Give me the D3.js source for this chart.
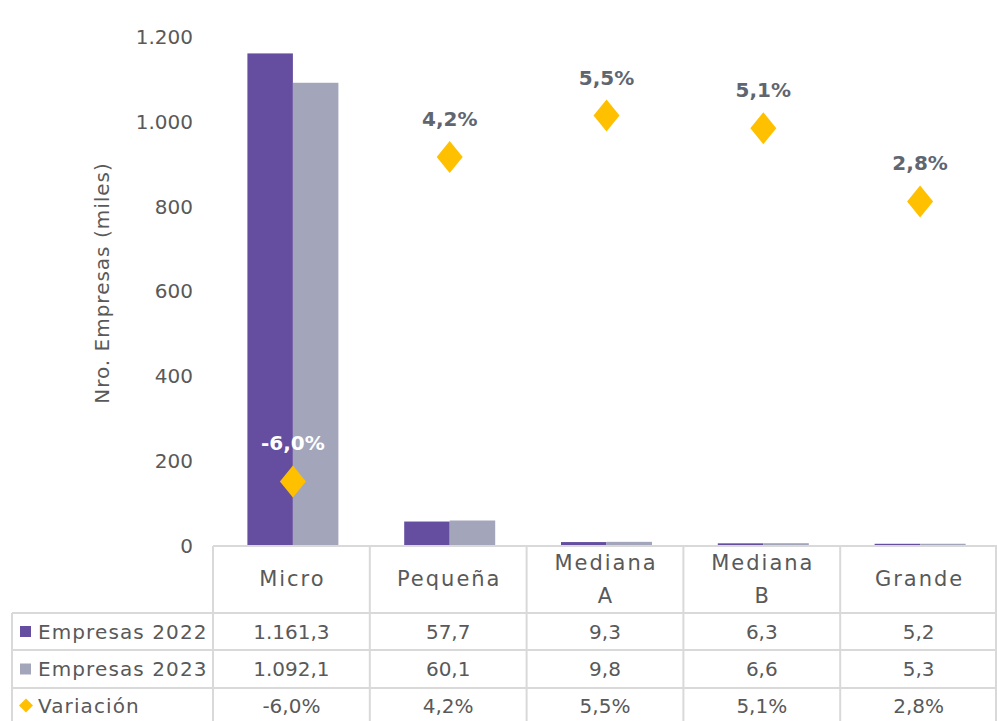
<!DOCTYPE html>
<html>
<head>
<meta charset="utf-8">
<script src="https://cdn.jsdelivr.net/npm/d3@7"></script>
<style>
  body { margin: 0; background: #fff; }
  text { font-family: "DejaVu Sans", sans-serif; }
</style>
</head>
<body>
<script>
var categories = [['Micro'], ['Pequeña'], ['Mediana', 'A'], ['Mediana', 'B'], ['Grande']],
  seriesNames = ['Empresas 2022', 'Empresas 2023'],
  empresas2022 = [1161.3, 57.7, 9.3, 6.3, 5.2],
  empresas2023 = [1092.1, 60.1, 9.8, 6.6, 5.3],
  variacion = [-0.060, 0.042, 0.055, 0.051, 0.028],
  yTicks = [0, 200, 400, 600, 800, 1000, 1200];

var
  width  = 997,
  height = 721,
  colors = ['#654ea0', '#a3a5bb'],
  diamondColor = '#ffc000',
  textColor = '#595959',
  gridColor = '#d9d9d9',
  locale = d3.formatLocale({decimal: ',', thousands: '.', grouping: [3], currency: ['', ''], minus: '-'}),
  fmtTick = locale.format(',.0f'),
  fmtVal  = locale.format(',.1f'),
  fmtPct  = locale.format('.1%');

var keys = categories.map(function (c) { return c.join(' '); });

var x0 = d3.scaleBand().domain(keys).range([213, 997]).padding(0),
  x1 = d3.scaleBand().domain(seriesNames)
         .range([(x0.bandwidth() - 91) / 2 + 1.5, (x0.bandwidth() + 91) / 2 + 1.5]),
  y = d3.scaleLinear().domain([0, 1200]).range([546, 37]),
  y2 = d3.scaleLinear().domain([-0.08, 0.08]).range([545, 36]);

var svg = d3.select('body').append('svg')
  .attr('width', width).attr('height', height)
  .attr('viewBox', [0, 0, width, height].join(' '));

// y axis (no line, no ticks)
var yAxis = svg.append('g')
  .attr('transform', 'translate(213,0)')
  .call(d3.axisLeft(y).tickValues(yTicks).tickFormat(fmtTick).tickSize(0).tickPadding(20));
yAxis.select('.domain').remove();
yAxis.selectAll('text')
  .attr('font-size', 20).attr('fill', textColor)
  .attr('font-family', '"DejaVu Sans", sans-serif');

svg.append('text')
  .attr('transform', 'translate(109,283) rotate(-90)')
  .attr('text-anchor', 'middle')
  .attr('font-size', 20).attr('fill', textColor)
  .attr('letter-spacing', 1)
  .text('Nro. Empresas (miles)');

// bars
var series = [empresas2022, empresas2023];
var groups = svg.append('g').selectAll('g')
  .data(keys).enter().append('g')
  .attr('transform', function (k) { return 'translate(' + x0(k) + ',0)'; });

groups.selectAll('rect')
  .data(function (k, i) { return seriesNames.map(function (s, j) { return {s: s, v: series[j][i]}; }); })
  .enter().append('rect')
  .attr('x', function (d) { return x1(d.s); })
  .attr('width', x1.bandwidth())
  .attr('y', function (d) { return y(d.v); })
  .attr('height', function (d) { return y(0) - y(d.v); })
  .attr('fill', function (d, j) { return colors[j]; });

// diamonds on secondary axis
var diamond = 'M0,-16L13,0L0,16L-13,0Z';
var pts = svg.append('g').selectAll('g')
  .data(variacion).enter().append('g')
  .attr('transform', function (v, i) { return 'translate(' + (x0(keys[i]) + x0.bandwidth() / 2 + 1.5) + ',' + y2(v) + ')'; });
pts.append('path').attr('d', diamond).attr('fill', diamondColor);
pts.append('text')
  .attr('y', -38).attr('dy', '0.35em')
  .attr('text-anchor', 'middle')
  .attr('font-size', 20).attr('font-weight', 'bold')
  .attr('fill', function (v) { return v < 0 ? '#ffffff' : '#5f6670'; })
  .text(function (v) { return fmtPct(v); });

// data table
var rowY = [546, 613, 650, 688, 726],
  tableLeft = 12,
  table = svg.append('g').attr('stroke', gridColor).attr('stroke-width', 2);

table.append('line').attr('x1', 213).attr('x2', 997).attr('y1', rowY[0]).attr('y2', rowY[0]);
rowY.slice(1, 4).forEach(function (ry) {
  table.append('line').attr('x1', tableLeft).attr('x2', 997).attr('y1', ry).attr('y2', ry);
});
table.append('line').attr('x1', tableLeft).attr('x2', tableLeft).attr('y1', rowY[1]).attr('y2', 721);
keys.forEach(function (k) {
  table.append('line').attr('x1', x0(k)).attr('x2', x0(k)).attr('y1', rowY[0]).attr('y2', 721);
});
table.append('line').attr('x1', 996).attr('x2', 996).attr('y1', rowY[0]).attr('y2', 721);

// header category labels
var head = svg.append('g').selectAll('text')
  .data(categories).enter().append('text')
  .attr('text-anchor', 'middle')
  .attr('font-size', 21).attr('fill', textColor)
  .attr('letter-spacing', 2)
  .attr('x', function (c, i) { return x0(keys[i]) + x0.bandwidth() / 2 + 1; })
  .attr('y', function (c) { return c.length > 1 ? 563 : 579; });
head.each(function (c) {
  var t = d3.select(this);
  c.forEach(function (line, j) {
    t.append('tspan').attr('x', t.attr('x')).attr('dy', j === 0 ? '0.35em' : '1.55em').text(line);
  });
});

// rows
var rows = [
  {name: seriesNames[0], values: empresas2022, fmt: fmtVal, mark: 'square', color: colors[0]},
  {name: seriesNames[1], values: empresas2023, fmt: fmtVal, mark: 'square', color: colors[1]},
  {name: 'Variación', values: variacion, fmt: fmtPct, mark: 'diamond', color: diamondColor}
];

rows.forEach(function (r, ri) {
  var cy = (rowY[ri + 1] + Math.min(rowY[ri + 2], 721)) / 2 + (ri === 2 ? 1 : 0);
  if (r.mark === 'square') {
    svg.append('rect').attr('x', 20).attr('y', cy - 5.5).attr('width', 11).attr('height', 11).attr('fill', r.color);
  } else {
    svg.append('path').attr('d', 'M0,-7L7,0L0,7L-7,0Z')
      .attr('transform', 'translate(26,' + cy + ')').attr('fill', r.color);
  }
  svg.append('text')
    .attr('x', 38).attr('y', cy).attr('dy', '0.35em')
    .attr('font-size', 20).attr('fill', textColor)
    .attr('letter-spacing', 1.1)
    .text(r.name);
  svg.append('g').selectAll('text')
    .data(r.values).enter().append('text')
    .attr('x', function (v, i) { return x0(keys[i]) + x0.bandwidth() / 2; })
    .attr('y', cy).attr('dy', '0.35em')
    .attr('text-anchor', 'middle')
    .attr('font-size', 20).attr('fill', textColor)
    .text(function (v) { return r.fmt(v); });
});
</script>
</body>
</html>
